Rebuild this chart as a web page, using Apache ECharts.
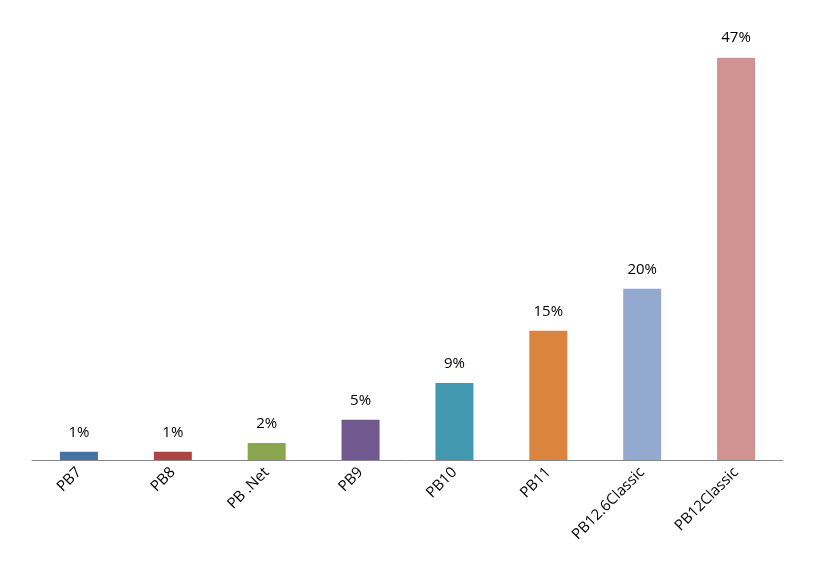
<!DOCTYPE html>
<html>
<head>
<meta charset="utf-8">
<script src="https://cdn.jsdelivr.net/npm/echarts@6/dist/echarts.min.js"></script>
<style>html,body{margin:0;padding:0;background:#fff}#c{width:821px;height:580px}</style>
</head>
<body>
<div id="c"></div>
<script>
var categories = ['PB7', 'PB8', 'PB .Net', 'PB9', 'PB10', 'PB11', 'PB12.6Classic', 'PB12Classic'];
var values = [0.95, 0.95, 2, 4.7, 9, 15.1, 20, 47];
var labels = ['1%', '1%', '2%', '5%', '9%', '15%', '20%', '47%'];
var colors = ['#4572A7', '#AA4643', '#89A54E', '#71588F', '#4198AF', '#DB843D', '#93A9CF', '#D19392'];

var chart = echarts.init(document.getElementById('c'));
chart.setOption({
  animation: false,
  grid: { left: 32, right: 38, top: 32, bottom: 120 },
  xAxis: {
    type: 'category',
    data: categories,
    axisLine: { lineStyle: { color: '#888' } },
    axisTick: { lineStyle: { color: '#888' }, length: 5 },
    axisLabel: { rotate: 45, color: '#000', fontSize: 15, fontFamily: 'Open Sans', margin: 10 }
  },
  yAxis: { type: 'value', min: 0, max: 50, show: false },
  series: [{
    type: 'bar',
    barWidth: 38,
    data: values.map(function (v, i) {
      return { value: v, itemStyle: { color: colors[i] } };
    }),
    label: {
      show: true,
      position: 'top',
      distance: 12,
      color: '#000',
      fontSize: 15,
      fontFamily: 'Open Sans',
      formatter: function (p) { return labels[p.dataIndex]; }
    }
  }]
});
</script>
</body>
</html>
